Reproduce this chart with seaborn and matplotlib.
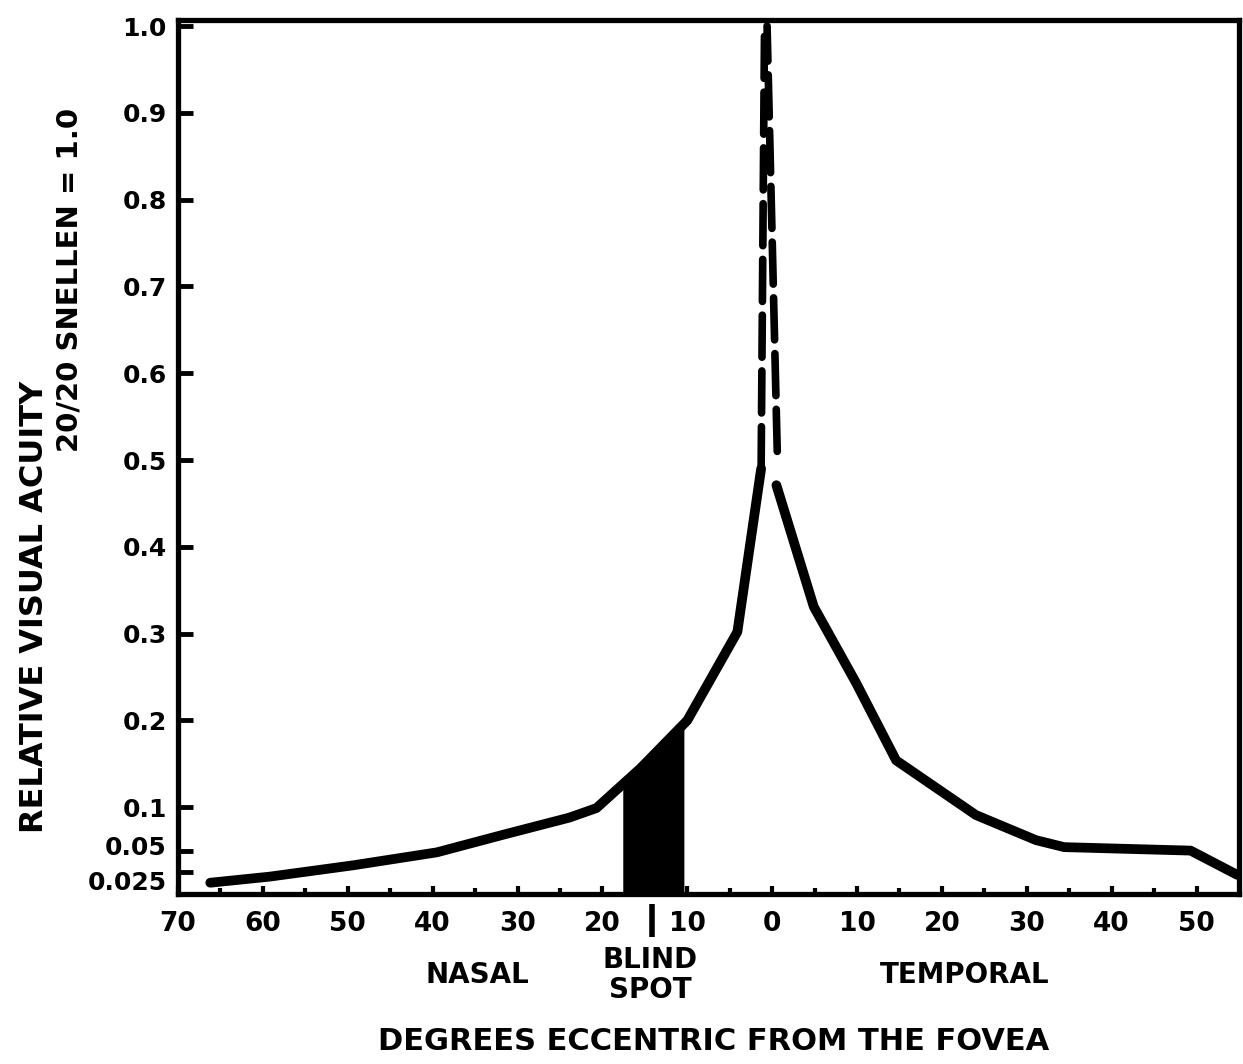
import numpy as np
import pandas as pd
import matplotlib
matplotlib.use("Agg")
import matplotlib.pyplot as plt
import matplotlib.transforms as mtransforms
import seaborn as sns

# Degrees eccentric from the fovea (nasal side negative)
nasal_x = [-66.2, -59.2, -49.4, -39.5, -31.8, -23.9, -20.7, -15.5, -10.0, -4.1, -1.3]
nasal_y = [0.013, 0.020, 0.033, 0.048, 0.068, 0.088, 0.099, 0.145, 0.200, 0.302, 0.490]

temporal_x = [0.5, 4.9, 9.9, 14.6, 24.0, 31.1, 34.4, 49.3, 54.8]
temporal_y = [0.471, 0.331, 0.243, 0.154, 0.091, 0.062, 0.054, 0.050, 0.022]

# dashed extrapolation toward the fovea
dash_left_x = [-1.3, -0.9]
dash_left_y = [0.49, 1.0]
dash_right_x = [0.6, -0.6]
dash_right_y = [0.51, 1.0]

# blind spot extent
blind_x = [-17.6, -10.4]

x_ticks = [-70, -60, -50, -40, -30, -20, -10, 0, 10, 20, 30, 40, 50]
x_labels = ["70", "60", "50", "40", "30", "20", "10", "0", "10", "20", "30", "40", "50"]
y_ticks = [0.025, 0.05, 0.1, 0.2, 0.3, 0.4, 0.5, 0.6, 0.7, 0.8, 0.9, 1.0]
y_labels = ["0.025", "0.05", "0.1", "0.2", "0.3", "0.4", "0.5", "0.6", "0.7", "0.8", "0.9", "1.0"]

sns.set_style("white")
plt.rcParams['font.family'] = ['DejaVu Sans']
plt.rcParams['font.weight'] = 'bold'
plt.rcParams['text.color'] = 'black'
plt.rcParams['xtick.color'] = 'black'
plt.rcParams['ytick.color'] = 'black'
plt.rcParams['xtick.labelcolor'] = 'black'
plt.rcParams['ytick.labelcolor'] = 'black'

fig = plt.figure(figsize=(12.43, 10.64), dpi=100)
ax = fig.add_axes([178 / 1243, 1 - 894 / 1064, (1239 - 178) / 1243, (894 - 20) / 1064])

nasal = pd.DataFrame({"x": nasal_x, "y": nasal_y})
temporal = pd.DataFrame({"x": temporal_x, "y": temporal_y})

# blind spot fill under the curve
bx = np.linspace(blind_x[0], blind_x[1], 50)
by = np.interp(bx, nasal_x, nasal_y)
ax.fill_between(bx, 0, by, color="black", lw=0)

sns.lineplot(data=nasal, x="x", y="y", sort=False, color="black", lw=7,
             solid_capstyle="round", solid_joinstyle="round", ax=ax)
sns.lineplot(data=temporal, x="x", y="y", sort=False, color="black", lw=7,
             solid_capstyle="round", solid_joinstyle="round", ax=ax)
for dx, dy in [(dash_left_x, dash_left_y), (dash_right_x, dash_right_y)]:
    sns.lineplot(x=dx, y=dy, sort=False, color="black", lw=5.5, ax=ax,
                 linestyle=(0, (5.5, 1.8)), dash_capstyle="round")

ax.set_xlim(-70, 55)
ax.set_ylim(0, 1.007)
ax.set_xlabel("")
ax.set_ylabel("")

ax.set_xticks(x_ticks)
ax.set_xticklabels(x_labels, fontsize=19, fontweight="bold")
ax.set_xticks(np.arange(-65, 55, 10), minor=True)
ax.set_yticks(y_ticks)
ax.set_yticklabels(y_labels, fontsize=18, fontweight="bold")

ax.tick_params(axis="x", which="major", direction="in", length=6, width=3, pad=12,
               bottom=True, color="black")
ax.tick_params(axis="x", which="minor", direction="in", length=4, width=3,
               bottom=True, color="black")
ax.tick_params(axis="y", which="major", direction="in", length=11, width=3.5, pad=8,
               left=True, color="black")

# the crowded low labels sit a little apart, as in the original
ylabs = ax.get_yticklabels()
ylabs[0].set_transform(ylabs[0].get_transform() +
                       mtransforms.ScaledTranslation(0, -8 / 100, fig.dpi_scale_trans))
ylabs[1].set_transform(ylabs[1].get_transform() +
                       mtransforms.ScaledTranslation(0, 5 / 100, fig.dpi_scale_trans))

for s in ax.spines.values():
    s.set_visible(True)
    s.set_linewidth(3.8)
    s.set_color("black")

# blind spot marker below the axis
ax.plot([-14.1, -14.1], [-0.011, -0.050], color="black", lw=4, clip_on=False,
        solid_capstyle="butt")

fig.text(35 / 1243, 1 - 607 / 1064, "RELATIVE VISUAL ACUITY", rotation=90,
         ha="center", va="center", fontsize=23, fontweight="bold")
fig.text(70 / 1243, 1 - 280 / 1064, "20/20 SNELLEN = 1.0", rotation=90,
         ha="center", va="center", fontsize=21, fontweight="bold")

fig.text(477 / 1243, 1 - 975 / 1064, "NASAL", ha="center", va="center",
         fontsize=20, fontweight="bold")
fig.text(650 / 1243, 1 - 975 / 1064, "BLIND\nSPOT", ha="center", va="center",
         fontsize=20, fontweight="bold", linespacing=1.1)
fig.text(965 / 1243, 1 - 975 / 1064, "TEMPORAL", ha="center", va="center",
         fontsize=20, fontweight="bold")
fig.text(714 / 1243, 1 - 1042 / 1064, "DEGREES ECCENTRIC FROM THE FOVEA",
         ha="center", va="center", fontsize=22, fontweight="bold")

fig.savefig("out.png", dpi=100, facecolor="white")
